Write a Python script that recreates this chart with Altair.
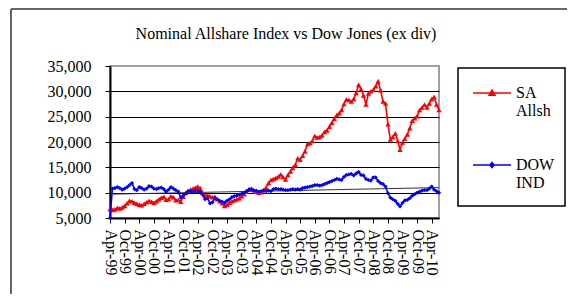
import altair as alt
import pandas as pd

FONT = "Liberation Serif"
TITLE = "Nominal Allshare Index vs Dow Jones (ex div)"

# Monthly observations, Apr-1999 .. Jul-2010
start_month = "1999-04-01"
months = [d.strftime("%Y-%m-%d") for d in pd.date_range(start_month, periods=136, freq="MS")]

sa_allsh = [
    6800, 6600, 6700, 7000, 6900, 7100, 7400, 7900, 8400,
    8300, 8000, 7800, 7600, 7500, 7800, 8100, 8400, 8200, 8000, 8300, 8700,
    9000, 9200, 8600, 8700, 9300, 9100, 8500, 8600, 8200, 9200, 10000, 10300,
    10600, 10800, 11000, 11200, 10900, 10000, 9400, 9500, 9300, 9100, 9200, 8700,
    8300, 7900, 7400, 7600, 8000, 8300, 8500, 8700, 8900, 9300, 9700, 10200,
    10700, 10800, 10500, 10200, 10000, 10100, 10500, 11000, 11900, 12500, 12700, 12900,
    13200, 13600, 13100, 12600, 13500, 14200, 14900, 15500, 16800, 16500, 17300, 18200,
    19600, 19800, 20200, 21200, 20900, 21000, 21300, 22000, 22300, 23000, 23800, 24600,
    25300, 25700, 26300, 27500, 28400, 28300, 28000, 28500, 29700, 31300, 30400, 29200,
    27400, 29600, 30000, 30300, 31000, 32000, 30200, 28000, 27600, 23500, 20500, 21000,
    21700, 20200, 18500, 19900, 20700, 21500, 22700, 24200, 24700, 25100, 26300, 26800,
    27400, 26800, 27600, 28500, 28900, 27400, 26300,
]

dow_ind = [
    5000, 10800, 10900, 11100, 10900, 10600, 10800, 11100, 11500,
    11900, 10700, 10500, 11100, 10900, 10600, 10800, 11300, 11200, 10800, 10700, 10900,
    11000, 10700, 10200, 10600, 11100, 10800, 10500, 10200, 9000, 9400, 9800, 10300,
    10300, 10100, 10500, 10400, 10200, 9600, 8700, 8900, 7900, 8100, 8900, 8700,
    8400, 8200, 8000, 8400, 8700, 9100, 9300, 9400, 9600, 9800, 10000, 10300,
    10600, 10700, 10400, 10400, 10200, 10300, 10400, 10300, 10400, 10300, 10700, 10800,
    10700, 10700, 10600, 10500, 10500, 10600, 10700, 10600, 10700, 10600, 10900, 11000,
    11100, 11200, 11300, 11500, 11500, 11400, 11500, 11700, 11900, 12100, 12300, 12500,
    12700, 12600, 12500, 13100, 13500, 13600, 13700, 13400, 13800, 14100, 13500, 13400,
    12700, 12500, 12400, 13000, 13000, 12300, 11900, 11700, 11200, 9900, 9000, 8700,
    8400, 7800, 7300, 8000, 8500, 8600, 8900, 9400, 9700, 10000, 10200, 10400,
    10500, 10500, 10800, 11200, 10600, 10300, 10000,
]

series_names = ["SA Allsh", "DOW IND"]
series_colors = ["#FF0000", "#0000FF"]

trend_dates = ["1999-04-01", "2010-07-01"]
trend_values = [9700, 11000]

y_ticks = [5000, 10000, 15000, 20000, 25000, 30000, 35000]
tick_years = list(range(1999, 2011))
tick_months = [4, 10]

df_sa = pd.DataFrame({"date": months, "value": sa_allsh, "s1": series_names[0]})
df_dow = pd.DataFrame({"date": months, "value": dow_ind, "s2": series_names[1]})
df_trend = pd.DataFrame({"date": trend_dates, "value": trend_values})
one = pd.DataFrame({"k": [0]})
df_title = pd.DataFrame({"t": [TITLE]})

x_values = [
    alt.DateTime(year=y, month=m, date=1, utc=True)
    for y in tick_years for m in tick_months
    if not (y == 2010 and m == 10)
]
x_domain = [alt.DateTime(year=1999, month=4, date=1, utc=True),
            alt.DateTime(year=2010, month=7, date=1, utc=True)]

x_axis = alt.Axis(values=x_values, format="%b-%y", labelAngle=90, labelFont=FONT,
                  labelFontSize=16, labelColor="black", tickColor="black", tickSize=5,
                  domainColor="black", domainWidth=2, grid=False, labelPadding=6,
                  labelFlush=False, labelOverlap=False, title=None)
y_axis = alt.Axis(values=y_ticks, format=",d", labelFont=FONT, labelFontSize=16,
                  labelColor="black", tickColor="black", tickSize=5, domainColor="black",
                  domainWidth=2, gridColor={"condition": {"test": "datum.value >= 35000", "value": "#A0A0A0"}, "value": "black"},
                  gridWidth=1, labelPadding=14, title=None)

x_enc = alt.X("date:T", scale=alt.Scale(type="utc", domain=x_domain, nice=False), axis=x_axis)
y_enc = alt.Y("value:Q", scale=alt.Scale(domain=[5000, 35000], nice=False, zero=False), axis=y_axis)

LINE = "M-1,0L1,0"
sym_sa = LINE + "M-0.16,0.12L0,-0.16L0.16,0.12Z"
sym_dow = LINE + "M0,-0.13L0.11,0L0,0.13L-0.11,0Z"

def make_legend(sym, color, ly):
    return alt.Legend(title=None, orient="none", legendX=362, legendY=ly, symbolType=sym,
                      symbolSize=1444, symbolStrokeWidth=1.5, symbolFillColor=color,
                      symbolStrokeColor=color, labelExpr="split(datum.label, ' ')",
                      labelFont=FONT, labelFontSize=16, labelColor="black", padding=0,
                      labelOffset=4)

frame_top = alt.Chart(one).mark_rule(color="#333333", strokeWidth=1.5).encode(
    x=alt.value(-99), x2=alt.value(457), y=alt.value(-57))
frame_left = alt.Chart(one).mark_rule(color="#333333", strokeWidth=1.5).encode(
    x=alt.value(-99), y=alt.value(-57), y2=alt.value(228))
legend_box = alt.Chart(one).mark_rect(fillOpacity=0, stroke="black", strokeWidth=1.5).encode(
    x=alt.value(348), x2=alt.value(455), y=alt.value(2), y2=alt.value(140))
title_text = alt.Chart(df_title).mark_text(font=FONT, fontSize=16, color="black",
                                            align="center", baseline="middle").encode(
    text="t:N", x=alt.value(176), y=alt.value(-32))

trend = alt.Chart(df_trend).mark_line(color="#333333", strokeWidth=1).encode(x=x_enc, y=y_enc)

sa_line = alt.Chart(df_sa).mark_line(strokeWidth=1.6).encode(
    x=x_enc, y=y_enc,
    color=alt.Color("s1:N", scale=alt.Scale(domain=[series_names[0]], range=[series_colors[0]]),
                    legend=make_legend(sym_sa, series_colors[0], 7)))
sa_pts = alt.Chart(df_sa).mark_point(shape="triangle-up", filled=True, size=28, opacity=1,
                                     color=series_colors[0]).encode(x=x_enc, y=y_enc)

dow_line = alt.Chart(df_dow).mark_line(strokeWidth=1.6).encode(
    x=x_enc, y=y_enc,
    color=alt.Color("s2:N", scale=alt.Scale(domain=[series_names[1]], range=[series_colors[1]]),
                    legend=make_legend(sym_dow, series_colors[1], 79)))
dow_pts = alt.Chart(df_dow).mark_point(shape="diamond", filled=True, size=18, opacity=1,
                                       color=series_colors[1]).encode(x=x_enc, y=y_enc)

chart = alt.layer(
    frame_top, frame_left, legend_box, title_text, trend, sa_line, sa_pts, dow_line, dow_pts
).resolve_scale(color="independent").properties(
    width=329, height=152,
    padding={"left": 2, "top": 0, "right": 0, "bottom": 0},
).configure_view(stroke="#A0A0A0", strokeWidth=2)

chart.save("out.html", embed_options={"renderer": "svg", "actions": False})
